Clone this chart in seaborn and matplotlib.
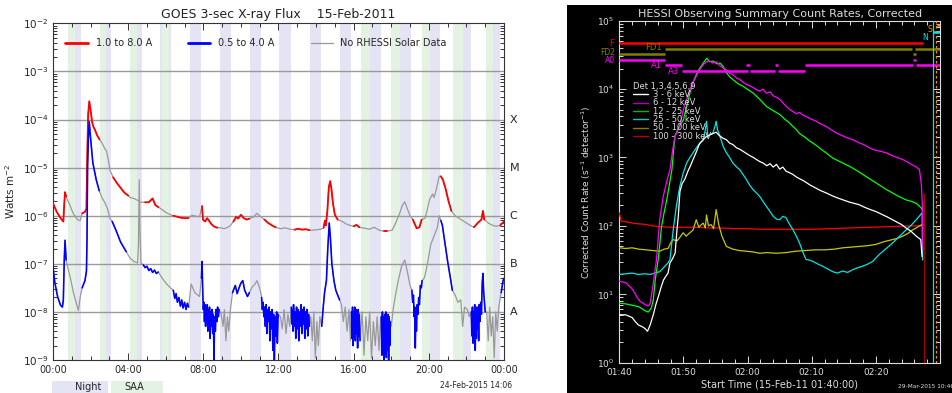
import numpy as np
import pandas as pd
import matplotlib
matplotlib.use("Agg")
import matplotlib.pyplot as plt
import seaborn as sns
from matplotlib.patches import Rectangle
from matplotlib.lines import Line2D
from matplotlib.ticker import LogLocator, NullFormatter, MultipleLocator

sns.set_theme(style="ticks")
plt.rcParams['font.family'] = ['DejaVu Sans']
plt.rcParams['mathtext.fontset'] = 'dejavusans'

# ------------------------------------------------------------------ GOES data
goes_title = "GOES 3-sec X-ray Flux    15-Feb-2011"
hour_ticks = [0, 4, 8, 12, 16, 20, 24]
hour_labels = ["00:00", "04:00", "08:00", "12:00", "16:00", "20:00", "00:00"]
class_levels = [-4, -5, -6, -7, -8]
class_names = ["X", "M", "C", "B", "A"]

night_start = [1.19, 2.82, 4.45, 5.69, 7.29, 8.88, 10.48, 12.04, 13.67, 15.27, 16.86, 18.46, 20.05, 21.83, 23.42]
night_end = [1.49, 3.09, 4.72, 6.26, 7.87, 9.47, 11.06, 12.64, 14.26, 15.85, 17.45, 19.04, 20.62, 22.23, 23.78]
saa_start = [0.80, 2.50, 4.10, 5.80, 16.38, 17.98, 19.66, 21.29, 23.03]
saa_end = [1.19, 2.82, 4.45, 6.16, 16.86, 18.46, 20.05, 21.83, 23.42]

long_t = [0.00, 0.20, 0.40, 0.55, 0.60, 0.64, 0.70, 0.80, 0.90, 1.00, 1.10, 1.20, 1.30, 1.45,
          1.55, 1.70, 1.78, 1.82, 1.87, 1.93, 2.00, 2.08, 2.15, 2.23, 2.35, 2.47, 2.60, 2.75,
          2.85, 2.95, 3.03, 3.20, 3.40, 3.60, 3.80, 4.00, 4.10, 4.30, 4.50, 4.70, 4.90, 5.10,
          5.30, 5.45, 5.60, 5.80, 6.00, 6.20, 6.40, 6.60, 6.80, 7.00, 7.20, 7.40, 7.60, 7.80,
          7.93, 7.98, 8.10, 8.20, 8.30, 8.40, 8.55, 8.75, 8.95, 9.10, 9.30, 9.45, 9.60, 9.75,
          9.85, 10.00, 10.15, 10.30, 10.45, 10.65, 10.85, 11.05, 11.25, 11.45, 11.65, 11.85,
          12.10, 12.35, 12.60, 12.85, 13.05, 13.25, 13.45, 13.65, 13.85, 14.05, 14.25, 14.40,
          14.47, 14.52, 14.60, 14.68, 14.75, 14.82, 14.90, 15.00, 15.15, 15.40, 15.60, 15.80,
          16.00, 16.15, 16.30, 16.60, 16.85, 17.10, 17.35, 17.60, 17.80, 18.05, 18.20, 18.40,
          18.60, 18.72, 18.85, 19.00, 19.15, 19.35, 19.50, 19.62, 19.80, 19.90, 20.05, 20.20,
          20.28, 20.40, 20.55, 20.64, 20.75, 20.90, 21.05, 21.20, 21.40, 21.60, 21.80, 22.00,
          22.20, 22.40, 22.60, 22.80, 22.88, 22.95, 23.20, 23.40, 23.60, 23.80, 24.00]
long_log = [-5.74, -5.92, -6.05, -6.12, -5.75, -5.51, -5.60, -5.70, -5.78, -5.88, -5.97, -6.02, -6.08, -6.10,
            -5.95, -5.92, -5.85, -4.80, -3.90, -3.62, -3.80, -4.05, -4.15, -4.21, -4.33, -4.41, -4.48, -4.60,
            -4.66, -4.85, -5.05, -5.20, -5.32, -5.42, -5.52, -5.58, -5.62, -5.64, -5.68, -5.72, -5.72, -5.72,
            -5.64, -5.78, -5.82, -5.87, -5.93, -5.97, -6.00, -6.02, -6.04, -6.05, -6.05, -5.99, -6.01, -6.02,
            -5.80, -6.08, -6.12, -6.05, -6.10, -6.16, -6.22, -6.25, -6.25, -6.27, -6.24, -6.20, -6.12, -6.02,
            -6.06, -5.98, -6.05, -6.08, -6.06, -6.03, -5.95, -6.02, -6.08, -6.15, -6.20, -6.24,
            -6.27, -6.25, -6.28, -6.29, -6.27, -6.29, -6.28, -6.30, -6.30, -6.29, -6.28, -6.25,
            -6.10, -6.20, -5.90, -5.40, -5.28, -5.45, -5.75, -5.98, -6.08, -6.12, -6.17, -6.20,
            -6.22, -6.19, -6.24, -6.26, -6.28, -6.24, -6.30, -6.32, -6.32, -6.30, -6.18, -6.00,
            -5.78, -5.71, -5.85, -6.00, -6.08, -6.26, -6.24, -6.08, -6.05, -5.90, -5.65, -5.55,
            -5.62, -5.45, -5.18, -5.18, -5.25, -5.45, -5.70, -5.90, -6.00, -6.05, -6.10, -6.15,
            -6.20, -6.24, -6.15, -6.08, -5.90, -6.08, -6.16, -6.20, -6.22, -6.20, -6.12]

short_t = [0.00, 0.10, 0.25, 0.40, 0.50, 0.55, 0.60, 0.64, 0.70, 0.80, 0.95, 1.10, 1.25, 1.35, 1.45,
           1.55, 1.70, 1.78, 1.81, 1.84, 1.88, 1.93, 1.98, 2.05, 2.12, 2.30, 2.46, 2.60, 2.75, 2.90,
           3.03, 3.15, 3.35, 3.60, 3.90, 4.10, 4.30, 4.50, 4.55, 4.59, 4.63, 4.68, 4.80, 4.90, 5.00,
           5.10, 5.20, 5.30, 5.40, 5.50, 5.60, 5.85, 6.05, 6.25, 6.40, 6.48, 6.55, 6.62, 6.70, 6.78,
           6.85, 6.92, 7.00, 7.08, 7.15, 7.22, 7.35, 7.55, 7.80, 7.90, 7.93, 7.97, 8.00, 8.03, 8.06,
           8.09, 8.12, 8.15, 8.18, 8.21, 8.24, 8.27, 8.30, 8.33, 8.36, 8.40, 8.43, 8.46, 8.50, 8.53,
           8.57, 8.60, 8.64, 8.68, 8.72, 8.76, 8.80, 8.84, 8.95, 9.05, 9.12, 9.20, 9.28, 9.35, 9.43,
           9.55, 9.70, 9.80, 9.90, 10.00, 10.10, 10.20, 10.35, 10.45, 10.60, 10.75, 10.85, 10.95, 11.05, 11.10,
           11.14, 11.18, 11.22, 11.26, 11.30, 11.34, 11.38, 11.42, 11.46, 11.50, 11.54, 11.58, 11.62, 11.66, 11.70,
           11.74, 11.78, 11.82, 11.86, 11.90, 11.94, 11.98, 12.10, 12.20, 12.30, 12.40, 12.50, 12.60, 12.68, 12.71,
           12.74, 12.77, 12.80, 12.84, 12.88, 12.92, 12.96, 13.00, 13.04, 13.08, 13.12, 13.16, 13.20, 13.24, 13.28,
           13.32, 13.36, 13.40, 13.44, 13.48, 13.52, 13.56, 13.60, 13.64, 13.72, 13.80, 13.88, 13.96, 14.04, 14.12,
           14.20, 14.30, 14.38, 14.45, 14.55, 14.62, 14.70, 14.76, 14.84, 14.95, 15.05, 15.15, 15.25, 15.35, 15.45,
           15.55, 15.65, 15.75, 15.83, 15.88, 15.91, 15.94, 15.97, 16.00, 16.03, 16.06, 16.09, 16.12, 16.15, 16.18,
           16.21, 16.24, 16.27, 16.30, 16.34, 16.45, 16.55, 16.65, 16.75, 16.85, 16.95, 17.05, 17.15, 17.25, 17.35,
           17.43, 17.47, 17.50, 17.53, 17.56, 17.59, 17.62, 17.65, 17.68, 17.71, 17.74, 17.77, 17.80, 17.83, 17.86,
           17.89, 17.92, 17.95, 18.00, 18.10, 18.25, 18.40, 18.55, 18.72, 18.85, 19.00, 19.10, 19.14, 19.18, 19.22,
           19.25, 19.28, 19.31, 19.34, 19.38, 19.42, 19.46, 19.50, 19.55, 19.60, 19.64, 19.75, 19.85, 19.95, 20.10,
           20.25, 20.35, 20.45, 20.55, 20.64, 20.72, 20.85, 21.00, 21.15, 21.25, 21.40, 21.55, 21.70, 21.80, 21.90,
           22.05, 22.15, 22.26, 22.29, 22.32, 22.35, 22.38, 22.41, 22.44, 22.47, 22.50, 22.53, 22.56, 22.59, 22.62,
           22.65, 22.68, 22.72, 22.76, 22.80, 22.84, 22.88, 22.92, 22.96, 23.00, 23.08, 23.16, 23.24, 23.32, 23.40,
           23.48, 23.56, 23.64, 23.72, 23.85, 23.95, 24.00]
short_log = [-7.06, -7.40, -7.69, -7.86, -7.90, -7.75, -6.90, -6.51, -6.92, -7.10, -7.34, -7.62, -7.83, -7.97, -7.69,
             -7.50, -7.35, -7.15, -6.50, -5.00, -4.40, -4.04, -4.30, -4.60, -4.90, -5.25, -5.48, -5.62, -5.72, -5.85,
             -6.05, -6.12, -6.30, -6.55, -6.75, -6.88, -6.95, -6.98, -6.60, -5.25, -6.30, -6.98, -7.02, -7.08, -7.05,
             -7.14, -7.10, -7.18, -7.13, -7.20, -7.17, -7.32, -7.42, -7.50, -7.55, -7.72, -7.62, -7.80, -7.70, -7.88,
             -7.75, -7.92, -7.80, -7.95, -7.82, -7.90, -7.42, -7.60, -7.68, -7.30, -6.95, -7.60, -7.95, -7.80, -8.20,
             -7.85, -8.30, -7.90, -8.15, -7.85, -8.40, -7.95, -8.25, -7.90, -8.55, -8.00, -8.30, -7.95, -8.45, -8.05,
             -9.00, -8.10, -8.40, -7.95, -8.20, -7.90, -8.10, -7.95, -8.05, -8.30, -7.95, -8.60, -8.10, -8.40, -8.00,
             -7.60, -7.45, -7.62, -7.50, -7.40, -7.35, -7.55, -7.68, -7.60, -7.48, -7.42, -7.35, -7.45, -7.58, -7.70,
             -7.95, -7.80, -8.10, -7.90, -8.30, -7.85, -8.45, -7.95, -8.20, -7.90, -8.60, -8.00, -8.35, -7.95, -8.80,
             -8.05, -9.00, -8.10, -8.50, -8.00, -8.65, -8.05, -8.10, -8.35, -7.95, -8.45, -8.05, -8.30, -7.90, -8.25,
             -7.95, -8.40, -7.85, -8.30, -8.00, -8.55, -7.90, -8.35, -7.95, -8.60, -8.00, -8.30, -7.85, -8.45, -7.95,
             -8.25, -7.90, -8.55, -8.00, -8.35, -7.95, -8.50, -8.05, -8.30, -8.10, -8.60, -8.00, -8.95, -8.20, -8.70,
             -8.10, -8.30, -7.90, -7.60, -7.35, -6.70, -6.15, -6.45, -7.00, -7.35, -7.55, -7.65, -7.75, -7.85, -8.20,
             -7.90, -8.40, -7.95, -8.60, -8.00, -8.55, -7.90, -8.70, -8.00, -8.40, -7.90, -8.60, -7.95, -8.45, -8.00,
             -8.75, -7.95, -8.50, -8.05, -8.60, -8.00, -8.90, -8.10, -8.60, -8.00, -8.95, -8.20, -8.70, -8.10, -8.80,
             -8.15, -8.10, -8.90, -8.00, -8.80, -8.10, -9.00, -8.05, -8.85, -8.00, -8.95, -8.15, -8.80, -8.05, -9.00,
             -8.10, -8.70, -8.20, -8.30, -7.95, -7.60, -7.30, -7.05, -6.92, -7.15, -7.45, -7.55, -7.80, -7.65, -8.10,
             -7.90, -8.75, -8.00, -8.40, -7.85, -8.05, -7.70, -7.85, -7.45, -7.50, -7.35, -7.30, -7.15, -6.95, -6.60,
             -6.45, -6.35, -6.25, -6.00, -6.10, -6.20, -6.55, -6.95, -7.30, -7.55, -7.65, -7.80, -7.75, -8.30, -7.90,
             -7.95, -8.10, -8.00, -8.50, -7.90, -8.65, -8.00, -8.40, -7.85, -8.80, -8.00, -8.55, -7.90, -8.35, -7.95,
             -8.60, -7.85, -8.20, -7.80, -8.05, -7.40, -7.20, -7.60, -7.80, -8.00, -8.00, -8.60, -7.90, -8.50, -8.10,
             -8.95, -8.00, -8.40, -7.90, -7.60, -7.35, -7.30]

# ------------------------------------------------------------------ RHESSI data (minutes after 01:40)
hessi_title = "HESSI Observing Summary Count Rates, Corrected"
min_ticks = [0, 10, 20, 30, 40]
min_labels = ["01:40", "01:50", "02:00", "02:10", "02:20"]
band_names = ["3 - 6 keV", "6 - 12 keV", "12 - 25 keV", "25 - 50 keV", "50 - 100 keV", "100 - 300 keV"]

w_t = [0, 1, 1.5, 2, 2.5, 3, 3.5, 4, 4.4, 4.8, 5.3, 5.7, 6.1, 6.5, 6.9, 7.3, 7.6, 7.9, 8.3, 8.7, 9.0, 9.2,
       9.45, 9.8, 10.2, 10.7, 11.1, 11.5, 12.0, 12.5, 13.0, 13.5, 14.1, 14.6, 15.1, 15.6, 16.2, 16.7,
       17.2, 17.7, 18.3, 18.8, 19.3, 19.8, 20.3, 20.9, 21.4, 21.9, 22.4, 23.0, 23.5, 24.0, 24.5, 25.0,
       25.5, 26.0, 26.5, 27.1, 27.7, 28.3, 28.9, 29.7, 30.5, 31.3, 32.3, 33.2, 34.0, 34.9, 35.8, 36.6,
       37.4, 38.3, 39.1, 40.0, 40.9, 41.8, 42.6, 43.4, 44.0, 44.7, 45.5, 46.3, 47.0, 47.2]
w_log = [0.70, 0.70, 0.68, 0.66, 0.60, 0.55, 0.53, 0.50, 0.46, 0.55, 0.70, 0.85, 0.97, 1.10, 1.21, 1.27, 1.31, 1.46, 1.52, 1.60, 1.95, 2.14,
         2.50, 2.62, 2.68, 2.80, 2.88, 2.97, 3.08, 3.20, 3.25, 3.30, 3.33, 3.35, 3.37, 3.32, 3.28, 3.26,
         3.21, 3.19, 3.14, 3.12, 3.09, 3.06, 3.03, 3.00, 2.97, 2.94, 2.92, 2.88, 2.91, 2.86, 2.90, 2.83,
         2.86, 2.80, 2.78, 2.75, 2.71, 2.68, 2.65, 2.60, 2.56, 2.52, 2.48, 2.44, 2.41, 2.38, 2.35, 2.33,
         2.31, 2.27, 2.24, 2.21, 2.17, 2.13, 2.09, 2.05, 2.02, 1.97, 1.92, 1.85, 1.80, 1.55]

m_t = [0, 1, 1.9, 2.4, 2.8, 3.2, 4.0, 4.5, 4.8, 5.3, 5.8, 6.3, 6.85, 7.4, 7.9, 8.3, 8.7, 9.4, 10.0, 10.5,
       11.0, 11.5, 12.0, 12.5, 13.1, 13.6, 14.1, 14.6, 15.1, 15.7, 16.2, 16.7, 17.2, 17.7, 18.3, 18.8,
       19.3, 19.8, 20.3, 20.9, 21.4, 21.9, 22.4, 22.9, 23.5, 24.0, 24.5, 25.0, 25.5, 26.0, 26.6, 27.1,
       27.6, 28.1, 28.6, 29.1, 29.7, 30.2, 30.7, 31.2, 31.7, 32.3, 32.8, 33.8, 34.5, 35.2, 36.4, 37.5,
       38.3, 39.0, 39.8, 40.7, 41.6, 42.5, 43.3, 44.2, 45.0, 45.7, 46.3, 46.8, 47.1, 47.25, 47.35]
m_log = [1.19, 1.17, 1.09, 1.02, 0.95, 0.90, 0.85, 0.83, 0.86, 1.16, 1.51, 2.09, 2.43, 2.65, 2.82, 3.10, 3.31, 3.45, 3.70, 3.85,
         3.99, 4.10, 4.19, 4.28, 4.36, 4.40, 4.41, 4.38, 4.40, 4.34, 4.31, 4.28, 4.23, 4.21, 4.16, 4.14,
         4.10, 4.07, 4.05, 4.02, 3.99, 3.97, 4.00, 3.94, 3.96, 3.90, 3.88, 3.85, 3.80, 3.75, 3.70, 3.67,
         3.64, 3.66, 3.62, 3.60, 3.57, 3.55, 3.53, 3.50, 3.48, 3.45, 3.42, 3.36, 3.33, 3.30, 3.26, 3.21,
         3.18, 3.14, 3.11, 3.09, 3.07, 3.03, 3.00, 2.97, 2.93, 2.89, 2.86, 2.82, 2.60, 2.30, 1.65]

g_t = [0, 1, 2, 3, 4, 4.5, 5.0, 5.3, 5.6, 6.07, 6.6, 7.0, 7.4, 7.8, 8.2, 8.66, 9.3, 10.0, 10.5, 11.0,
       11.5, 12.0, 12.5, 13.1, 13.6, 14.1, 14.6, 15.2, 15.7, 16.2, 16.7, 17.2, 17.7, 18.5, 19.3, 20.1,
       20.9, 21.9, 22.9, 23.9, 25.0, 25.8, 26.6, 27.1, 27.6, 28.1, 28.9, 29.7, 30.5, 31.2, 32.2, 33.3,
       34.6, 35.9, 37.2, 38.5, 39.5, 40.5, 41.5, 42.6, 43.6, 44.7, 45.5, 46.3, 47.1, 47.3]
g_log = [0.87, 0.86, 0.84, 0.82, 0.76, 0.74, 0.80, 0.92, 1.21, 1.51, 2.00, 2.20, 2.38, 2.60, 2.82, 3.31, 3.45, 3.55, 3.75, 3.94,
         4.10, 4.21, 4.30, 4.38, 4.45, 4.40, 4.41, 4.37, 4.38, 4.33, 4.24, 4.18, 4.14, 4.08, 4.04, 3.99,
         3.94, 3.85, 3.75, 3.69, 3.63, 3.56, 3.50, 3.45, 3.41, 3.35, 3.30, 3.24, 3.19, 3.14, 3.07, 2.99,
         2.93, 2.87, 2.80, 2.72, 2.66, 2.60, 2.54, 2.48, 2.43, 2.38, 2.36, 2.33, 2.26, 2.21]

c_t = [0, 1, 2, 3, 4, 4.8, 5.5, 6.3, 7.1, 7.6, 7.9, 8.4, 8.9, 9.44, 9.96, 10.5, 11.0, 11.5, 12.0, 12.55,
       13.1, 13.4, 13.6, 13.8, 14.1, 14.6, 14.9, 15.1, 15.3, 15.7, 16.2, 16.7, 17.2, 17.7, 18.3, 18.8,
       19.3, 19.8, 20.3, 20.85, 21.4, 21.9, 22.4, 22.9, 23.5, 24.0, 24.5, 25.0, 25.5, 26.0, 26.5, 27.1,
       27.6, 28.1, 28.6, 29.1, 29.6, 30.2, 31.0, 31.7, 32.5, 33.3, 34.0, 34.8, 35.6, 36.4, 37.2, 37.9,
       38.7, 39.5, 40.5, 41.5, 42.6, 43.6, 44.7, 45.5, 46.3, 47.2, 47.3]
c_log = [1.29, 1.30, 1.31, 1.29, 1.30, 1.29, 1.31, 1.33, 1.41, 1.46, 1.51, 1.94, 2.29, 2.58, 2.77, 2.92, 3.00, 3.07, 3.14, 3.21,
         3.26, 3.40, 3.53, 3.31, 3.33, 3.36, 3.45, 3.53, 3.41, 3.31, 3.16, 3.07, 3.00, 2.92, 2.86, 2.82,
         2.75, 2.68, 2.60, 2.53, 2.48, 2.43, 2.36, 2.29, 2.21, 2.14, 2.10, 2.09, 2.14, 2.12, 2.03, 1.94,
         1.85, 1.75, 1.62, 1.51, 1.50, 1.48, 1.44, 1.41, 1.37, 1.33, 1.31, 1.34, 1.32, 1.36, 1.39, 1.41,
         1.44, 1.48, 1.58, 1.66, 1.75, 1.84, 1.94, 2.01, 2.09, 2.19, 1.50]

y_t = [0, 1, 2, 3, 4.2, 5.2, 6.3, 7.0, 7.6, 8.0, 8.4, 9.0, 9.5, 9.96, 10.4, 11.0, 11.5, 12.0, 12.4, 12.8,
       13.1, 13.4, 13.6, 13.9, 14.3, 14.7, 15.1, 15.5, 16.0, 16.7, 17.7, 18.7, 19.8, 20.8, 21.9, 23.0,
       24.5, 26.0, 27.5, 29.0, 30.5, 32.0, 33.5, 34.9, 36.2, 37.4, 38.7, 40.0, 41.3, 42.6, 43.4, 44.2,
       45.0, 45.7, 46.3, 46.8, 47.2]
y_log = [1.68, 1.67, 1.68, 1.66, 1.65, 1.64, 1.63, 1.66, 1.67, 1.75, 1.80, 1.78, 1.84, 1.90, 1.85, 1.90, 1.94, 2.09, 1.98, 2.02,
         2.04, 1.97, 2.16, 2.00, 2.02, 1.96, 2.24, 2.02, 1.85, 1.70, 1.66, 1.64, 1.63, 1.62, 1.60, 1.61,
         1.60, 1.61, 1.63, 1.64, 1.65, 1.65, 1.66, 1.68, 1.69, 1.70, 1.71, 1.73, 1.77, 1.80, 1.82, 1.85,
         1.89, 1.94, 1.97, 2.00, 2.02]

r_t = [0, 0.3, 1, 2.1, 3, 4.2, 5.2, 6.3, 8, 10, 12, 14, 15.7, 18, 20, 21.9, 24, 27, 30, 33, 36, 39, 42.6, 45, 47.1]
r_log = [2.19, 2.07, 2.06, 2.04, 2.03, 2.02, 2.00, 1.99, 1.98, 1.98, 1.98, 1.97, 1.97, 1.96, 1.96, 1.95, 1.95, 1.95,
         1.95, 1.96, 1.97, 1.98, 1.99, 2.00, 2.00]

# attenuator / decimation state intervals (minutes)
state_F = [(0.0, 47.4)]
state_FD1 = [(7.1, 45.7), (46.1, 50.0)]
state_FD2 = [(0.0, 7.1), (45.8, 46.2)]
state_A0 = [(0.0, 7.1), (45.8, 46.2)]
state_A1 = [(7.1, 9.7), (19.8, 20.3), (24.2, 24.7), (29.0, 45.8), (46.3, 50.0)]
state_A3 = [(9.7, 20.1), (20.3, 24.2), (24.7, 28.9)]
state_levels = [10**4.67, 10**4.59, 10**4.52, 10**4.43, 10**4.35, 10**4.27]

# ------------------------------------------------------------------ figure
W, H = 953, 393
fig = plt.figure(figsize=(W / 100, H / 100), dpi=100)
fig.patch.set_facecolor("white")


def fx(px):
    return px / W


def fy(py):
    return 1 - py / H


# black background of the RHESSI panel
fig.patches.append(Rectangle((fx(567), 0), 1 - fx(567), fy(5), transform=fig.transFigure,
                             facecolor="black", edgecolor="none", zorder=-10))

# ======================= LEFT: GOES
axL = fig.add_axes([fx(53), fy(360), fx(504) - fx(53), fy(23.4) - fy(360)])
axL.set_facecolor("white")
NIGHT = "#e4e4f4"
SAA = "#e4f2e4"
for a, b in zip(night_start, night_end):
    axL.axvspan(a, b, color=NIGHT, lw=0, zorder=0)
for a, b in zip(saa_start, saa_end):
    axL.axvspan(a, b, color=SAA, lw=0, zorder=0.5)
for lv in [-3, -4, -5, -6, -7, -8]:
    axL.axhline(10.0**lv, color="#9a9a9a", lw=1.0, zorder=1)


def in_gap(t):
    t = np.asarray(t)
    m = np.zeros(t.shape, bool)
    for a, b in list(zip(night_start, night_end)) + list(zip(saa_start, saa_end)):
        m |= (t >= a) & (t <= b)
    return m


def segmented(t, lg):
    t = np.asarray(t)
    f = 10.0 ** np.asarray(lg)
    gap = in_gap(t)
    seg = np.cumsum(gap)
    df = pd.DataFrame({"t": t, "flux": f, "seg": seg, "gap": gap})
    return df, df[~df["gap"]]


for tt, lg, col, lw in [(long_t, long_log, "#ff0000", 1.3), (short_t, short_log, "#0000ff", 1.15)]:
    full, colored = segmented(tt, lg)
    sns.lineplot(data=full, x="t", y="flux", color="#999999", lw=0.9, estimator=None,
                 sort=False, ax=axL, zorder=2)
    sns.lineplot(data=colored, x="t", y="flux", units="seg", color=col, lw=lw,
                 estimator=None, sort=False, ax=axL, zorder=3)

axL.set_yscale("log")
axL.set_ylim(1e-9, 1e-2)
axL.set_xlim(0, 24)
axL.set_xlabel("")
axL.set_ylabel("Watts m$^{-2}$", fontsize=7.5, labelpad=4)
axL.set_xticks(hour_ticks)
axL.set_xticklabels(hour_labels, fontsize=7)
axL.xaxis.set_minor_locator(MultipleLocator(1))
axL.yaxis.set_major_locator(LogLocator(base=10, numticks=20))
axL.yaxis.set_minor_locator(LogLocator(base=10, subs=np.arange(2, 10), numticks=20))
axL.yaxis.set_minor_formatter(NullFormatter())
axL.tick_params(axis="y", labelsize=7.5)
axL.tick_params(which="both", direction="in", top=True, right=True, color="#333333", width=0.7)
axL.tick_params(which="major", length=5)
axL.tick_params(which="minor", length=3)
for s in axL.spines.values():
    s.set_color("#333333")
    s.set_linewidth(0.8)
axL.set_title(goes_title, fontsize=9, pad=4, color="#222222")
for lv, nm in zip(class_levels, class_names):
    axL.text(1.012, 10.0**lv, nm, transform=axL.get_yaxis_transform(), fontsize=8,
             va="center", ha="left")

# legend of GOES panel
leg_items = [(65, 88, "#ff0000", 2.0, "1.0 to 8.0 A", 96), (188, 210, "#0000ff", 2.0, "0.5 to 4.0 A", 218),
             (311, 333, "#999999", 0.9, "No RHESSI Solar Data", 340)]
for x0, x1, col, lw, txt, tx in leg_items:
    fig.add_artist(Line2D([fx(x0), fx(x1)], [fy(42.5), fy(42.5)], color=col, lw=lw))
    fig.text(fx(tx), fy(42.5), txt, fontsize=7, va="center", ha="left")

# Night / SAA boxes
fig.patches.append(Rectangle((fx(52), 0), fx(108) - fx(52), fy(381), transform=fig.transFigure,
                             facecolor=NIGHT, edgecolor="none"))
fig.patches.append(Rectangle((fx(111), 0), fx(163) - fx(111), fy(381), transform=fig.transFigure,
                             facecolor=SAA, edgecolor="none"))
fig.text(fx(88), fy(387), "Night", fontsize=7, ha="center", va="center")
fig.text(fx(134), fy(387), "SAA", fontsize=7, ha="center", va="center")
fig.text(fx(440), fy(386), "24-Feb-2015 14:06", fontsize=5.5, ha="left", va="center")

# ======================= RIGHT: RHESSI
axR = fig.add_axes([fx(619.3), fy(362.7), fx(940) - fx(619.3), fy(20.7) - fy(362.7)])
axR.set_facecolor("black")
curves = [(w_t, w_log, "#ffffff"), (m_t, m_log, "#ff00ff"), (g_t, g_log, "#00ff00"),
          (c_t, c_log, "#00e5e5"), (y_t, y_log, "#c8c800"), (r_t, r_log, "#ff0000")]
for tt, lg, col in curves[::-1]:
    sns.lineplot(x=np.asarray(tt), y=10.0 ** np.asarray(lg), color=col, lw=0.9, estimator=None,
                 sort=False, ax=axR, zorder=3)

states = [("F", "#ff0000", state_F), ("FD1", "#808000", state_FD1), ("FD2", "#808000", state_FD2),
          ("A0", "#ff00ff", state_A0), ("A1", "#ff00ff", state_A1), ("A3", "#ff00ff", state_A3)]
for (nm, col, ivs), lvl in zip(states, state_levels):
    for a, b in ivs:
        axR.hlines(lvl, a, b, color=col, lw=1.8, zorder=4)

# end-of-data markers
axR.axvline(48.9, color="#00e5e5", lw=0.9, zorder=5)
axR.axvline(49.4, color="#ff8c00", lw=0.9, ls=(0, (2, 2)), zorder=5)
axR.vlines(47.5, 1, 10**2.48, color="#a00000", lw=1.0, zorder=5)
axR.hlines(10**4.83, 48.9, 50, color="#00e5e5", lw=1.8, zorder=5)
axR.hlines(10**4.93, 49.5, 50, color="#ff8c00", lw=1.8, zorder=5)

axR.set_yscale("log")
axR.set_ylim(1, 1e5)
axR.set_xlim(0, 50)
axR.set_xticks(min_ticks)
axR.set_xticklabels(min_labels, fontsize=6.5, color="#dddddd")
axR.xaxis.set_minor_locator(MultipleLocator(2))
axR.yaxis.set_major_locator(LogLocator(base=10, numticks=20))
axR.yaxis.set_minor_locator(LogLocator(base=10, subs=np.arange(2, 10), numticks=20))
axR.yaxis.set_minor_formatter(NullFormatter())
axR.tick_params(axis="y", labelsize=6.5, labelcolor="#dddddd")
axR.tick_params(which="both", direction="in", top=True, right=True, color="#dddddd", width=0.7)
axR.tick_params(which="major", length=5)
axR.tick_params(which="minor", length=3)
for s in axR.spines.values():
    s.set_color("#dddddd")
    s.set_linewidth(0.8)
axR.set_xlabel("Start Time (15-Feb-11 01:40:00)", fontsize=7, color="#dddddd", labelpad=2)
axR.set_ylabel("Corrected Count Rate (s$^{-1}$ detector$^{-1}$)", fontsize=6.5, color="#dddddd",
               labelpad=3)
axR.set_title(hessi_title, fontsize=8, color="#dddddd", pad=3)

# state labels
for txt, col, px, py, ha, fs in [("F", "#ff0000", 614, 43.0, "right", 6), ("FD2", "#808000", 615, 52.5, "right", 5.5),
                                 ("A0", "#ff00ff", 615, 60.5, "right", 5.5), ("FD1", "#808000", 662, 48.0, "right", 6),
                                 ("A1", "#ff00ff", 662, 65, "right", 6), ("A3", "#ff00ff", 679, 71.0, "right", 6),
                                 ("S", "#ff8c00", 930, 30, "center", 5.5), ("N", "#00e5e5", 925, 38, "center", 5.5)]:
    fig.text(fx(px), fy(py), txt, color=col, fontsize=fs, ha=ha, va="center")

# detector legend
fig.text(fx(633), fy(86), "Det 1,3,4,5,6,9", color="#dddddd", fontsize=6, ha="left", va="center")
leg_cols = ["#ffffff", "#b000b0", "#00b400", "#00c8c8", "#808000", "#b40000"]
for i, (nm, col) in enumerate(zip(band_names, leg_cols)):
    yy = 94.3 + 8.35 * i
    fig.add_artist(Line2D([fx(633), fx(648)], [fy(yy), fy(yy)], color=col, lw=1.0))
    fig.text(fx(653), fy(yy), nm, color="#dddddd", fontsize=6, ha="left", va="center")

fig.text(fx(898), fy(387), "29-Mar-2015 10:46", color="#dddddd", fontsize=4.2, ha="left", va="center")

fig.savefig("out.png", dpi=100, facecolor=fig.get_facecolor())
